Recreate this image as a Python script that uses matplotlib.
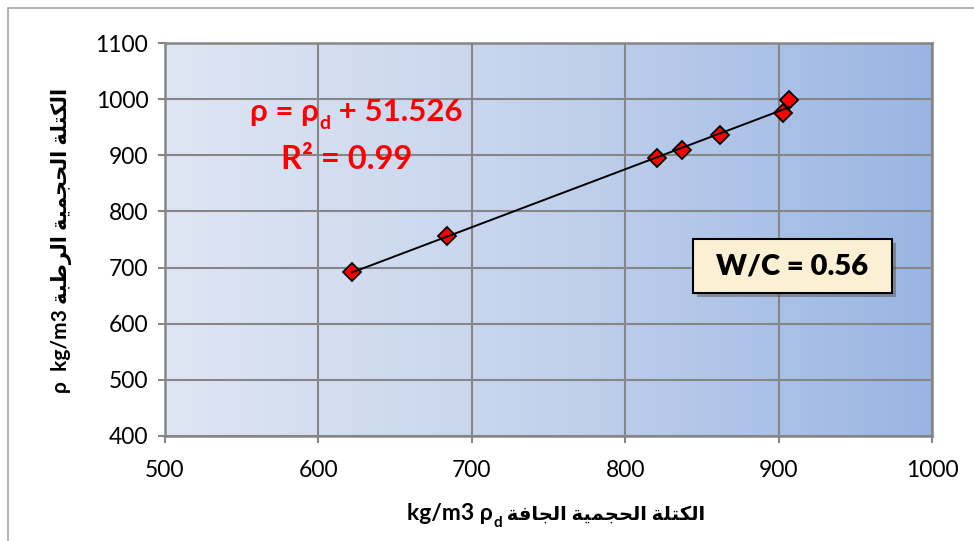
import numpy as np
import matplotlib
matplotlib.use("Agg")
import matplotlib.pyplot as plt
import matplotlib.patheffects as pe
from matplotlib.colors import LinearSegmentedColormap
from matplotlib.patches import Rectangle

# ---- Data ----
dry_density = [622, 684, 821, 837, 862, 903, 907]
wet_density = [692, 757, 895, 910, 936, 975, 998]
x_ticks = [500, 600, 700, 800, 900, 1000]
y_ticks = [400, 500, 600, 700, 800, 900, 1000, 1100]

xlabel_ar = "الكتلة الحجمية الجافة"
ylabel_ar = "الكتلة الحجمية الرطبة"
eq_const = "51.526"
r2_text = "R² = 0.99"
wc_text = "W/C = 0.56"

# ---- Minimal Arabic shaping (matplotlib has no RTL / joining support) ----
FORMS = {
    "ا": ("\uFE8D", "\uFE8E", None, None),
    "ب": ("\uFE8F", "\uFE90", "\uFE91", "\uFE92"),
    "ة": ("\uFE93", "\uFE94", None, None),
    "ت": ("\uFE95", "\uFE96", "\uFE97", "\uFE98"),
    "ج": ("\uFE9D", "\uFE9E", "\uFE9F", "\uFEA0"),
    "ح": ("\uFEA1", "\uFEA2", "\uFEA3", "\uFEA4"),
    "ر": ("\uFEAD", "\uFEAE", None, None),
    "ط": ("\uFEC1", "\uFEC2", "\uFEC3", "\uFEC4"),
    "ف": ("\uFED1", "\uFED2", "\uFED3", "\uFED4"),
    "ك": ("\uFED9", "\uFEDA", "\uFEDB", "\uFEDC"),
    "ل": ("\uFEDD", "\uFEDE", "\uFEDF", "\uFEE0"),
    "م": ("\uFEE1", "\uFEE2", "\uFEE3", "\uFEE4"),
    "ي": ("\uFEF1", "\uFEF2", "\uFEF3", "\uFEF4"),
}


def shape_word(word):
    out = []
    for i, ch in enumerate(word):
        iso, fin, ini, med = FORMS[ch]
        prev_joins = i > 0 and FORMS[word[i - 1]][2] is not None
        next_join = ini is not None and i < len(word) - 1
        if prev_joins and next_join:
            out.append(med)
        elif prev_joins:
            out.append(fin)
        elif next_join:
            out.append(ini)
        else:
            out.append(iso)
    return "".join(reversed(out))


def arabic_visual(text):
    return " ".join(shape_word(w) for w in reversed(text.split()))


FAMILY = ["Lato", "DejaVu Sans"]
plt.rcParams["font.family"] = FAMILY

fig = plt.figure(figsize=(9.74, 5.41), dpi=100)
ax = fig.add_axes([165 / 974, 1 - 436 / 541, 767 / 974, 393 / 541])

# ---- Gradient plot background ----
cmap = LinearSegmentedColormap.from_list("bg", ["#dfe6f3", "#c3d2ec", "#9ab5e3"])
grad = np.linspace(0, 1, 256).reshape(1, -1)
ax.imshow(grad, cmap=cmap, aspect="auto", extent=(500, 1000, 400, 1100),
          zorder=0, interpolation="bicubic")

# ---- Trendline + points ----
slope, intercept = np.polyfit(dry_density, wet_density, 1)
xs = np.array([min(dry_density), max(dry_density)])
ax.plot(dry_density, wet_density, linestyle="none", marker="D", markersize=9,
        markerfacecolor="#ff0000", markeredgecolor="black", markeredgewidth=1.3,
        zorder=3)
ax.plot(xs, slope * xs + intercept, color="black", linewidth=1.4, zorder=4)

# ---- Axes styling ----
ax.set_xlim(500, 1000)
ax.set_ylim(400, 1100)
ax.set_xticks(x_ticks)
ax.set_yticks(y_ticks)
ax.set_axisbelow(True)
ax.grid(True, color="#868686", linewidth=1.5)
for s in ax.spines.values():
    s.set_color("#868686")
    s.set_linewidth(1.8)
ax.tick_params(direction="out", length=5, width=1.5, color="#868686",
               labelsize=16.5, pad=7)
ax.tick_params(axis="x", pad=12)

# ---- Axis labels (pieces chained to get the subscript) ----
t1 = fig.text(407 / 974, 1 - 524 / 541, "kg/m3 ρ", fontsize=16.5,
              fontweight="bold", va="bottom", ha="left")
t2 = ax.annotate("d", xy=(1, 0), xycoords=t1, xytext=(0.5, -4),
                 textcoords="offset points", fontsize=11, fontweight="bold",
                 va="bottom", ha="left")
ax.annotate(" " + arabic_visual(xlabel_ar), xy=(1, 0), xycoords=(t2, t1),
            xytext=(0, 1), textcoords="offset points",
            fontsize=14, fontweight="bold", va="bottom", ha="left")

fig.text(62 / 974, 1 - 240 / 541, "ρ  kg/m3 " + arabic_visual(ylabel_ar),
         rotation=90, fontsize=15, fontweight="bold", ha="center", va="center")

# ---- Equation annotation ----
e1 = ax.text(0.111, 0.79, "ρ = ρ", transform=ax.transAxes, fontsize=22.5,
             fontweight="bold", color="#ff0000", va="bottom", ha="left")
e2 = ax.annotate("d", xy=(1, 0), xycoords=e1, xytext=(0.5, -5),
                 textcoords="offset points", fontsize=14, fontweight="bold",
                 color="#ff0000", va="bottom", ha="left")
ax.annotate(" + " + eq_const, xy=(1, 0), xycoords=(e2, e1), fontsize=22.5,
            fontweight="bold", color="#ff0000", va="bottom", ha="left")
ax.text(0.237, 0.667, r2_text, transform=ax.transAxes, fontsize=23.5,
        fontweight="bold", color="#ff0000", va="bottom", ha="center")

# ---- W/C box ----
box = Rectangle((528 / 767, 143 / 393), 199 / 767, 54 / 393,
                transform=ax.transAxes, facecolor="#fbf0d3",
                edgecolor="black", linewidth=1.5, zorder=5)
box.set_path_effects([pe.SimplePatchShadow(offset=(3, -3), alpha=0.45),
                      pe.Normal()])
ax.add_patch(box)
ax.text(627 / 767, 170 / 393, wc_text, transform=ax.transAxes, fontsize=21,
        fontweight="heavy", ha="center", va="center", zorder=6)

# ---- Outer chart frame ----
fig.add_artist(Rectangle((8 / 974, -0.1), 1.1, (1 - 8 / 541) + 0.1,
                         transform=fig.transFigure, fill=False,
                         edgecolor="#a6a6a6", linewidth=1.2))

fig.savefig("out.png", dpi=100)
